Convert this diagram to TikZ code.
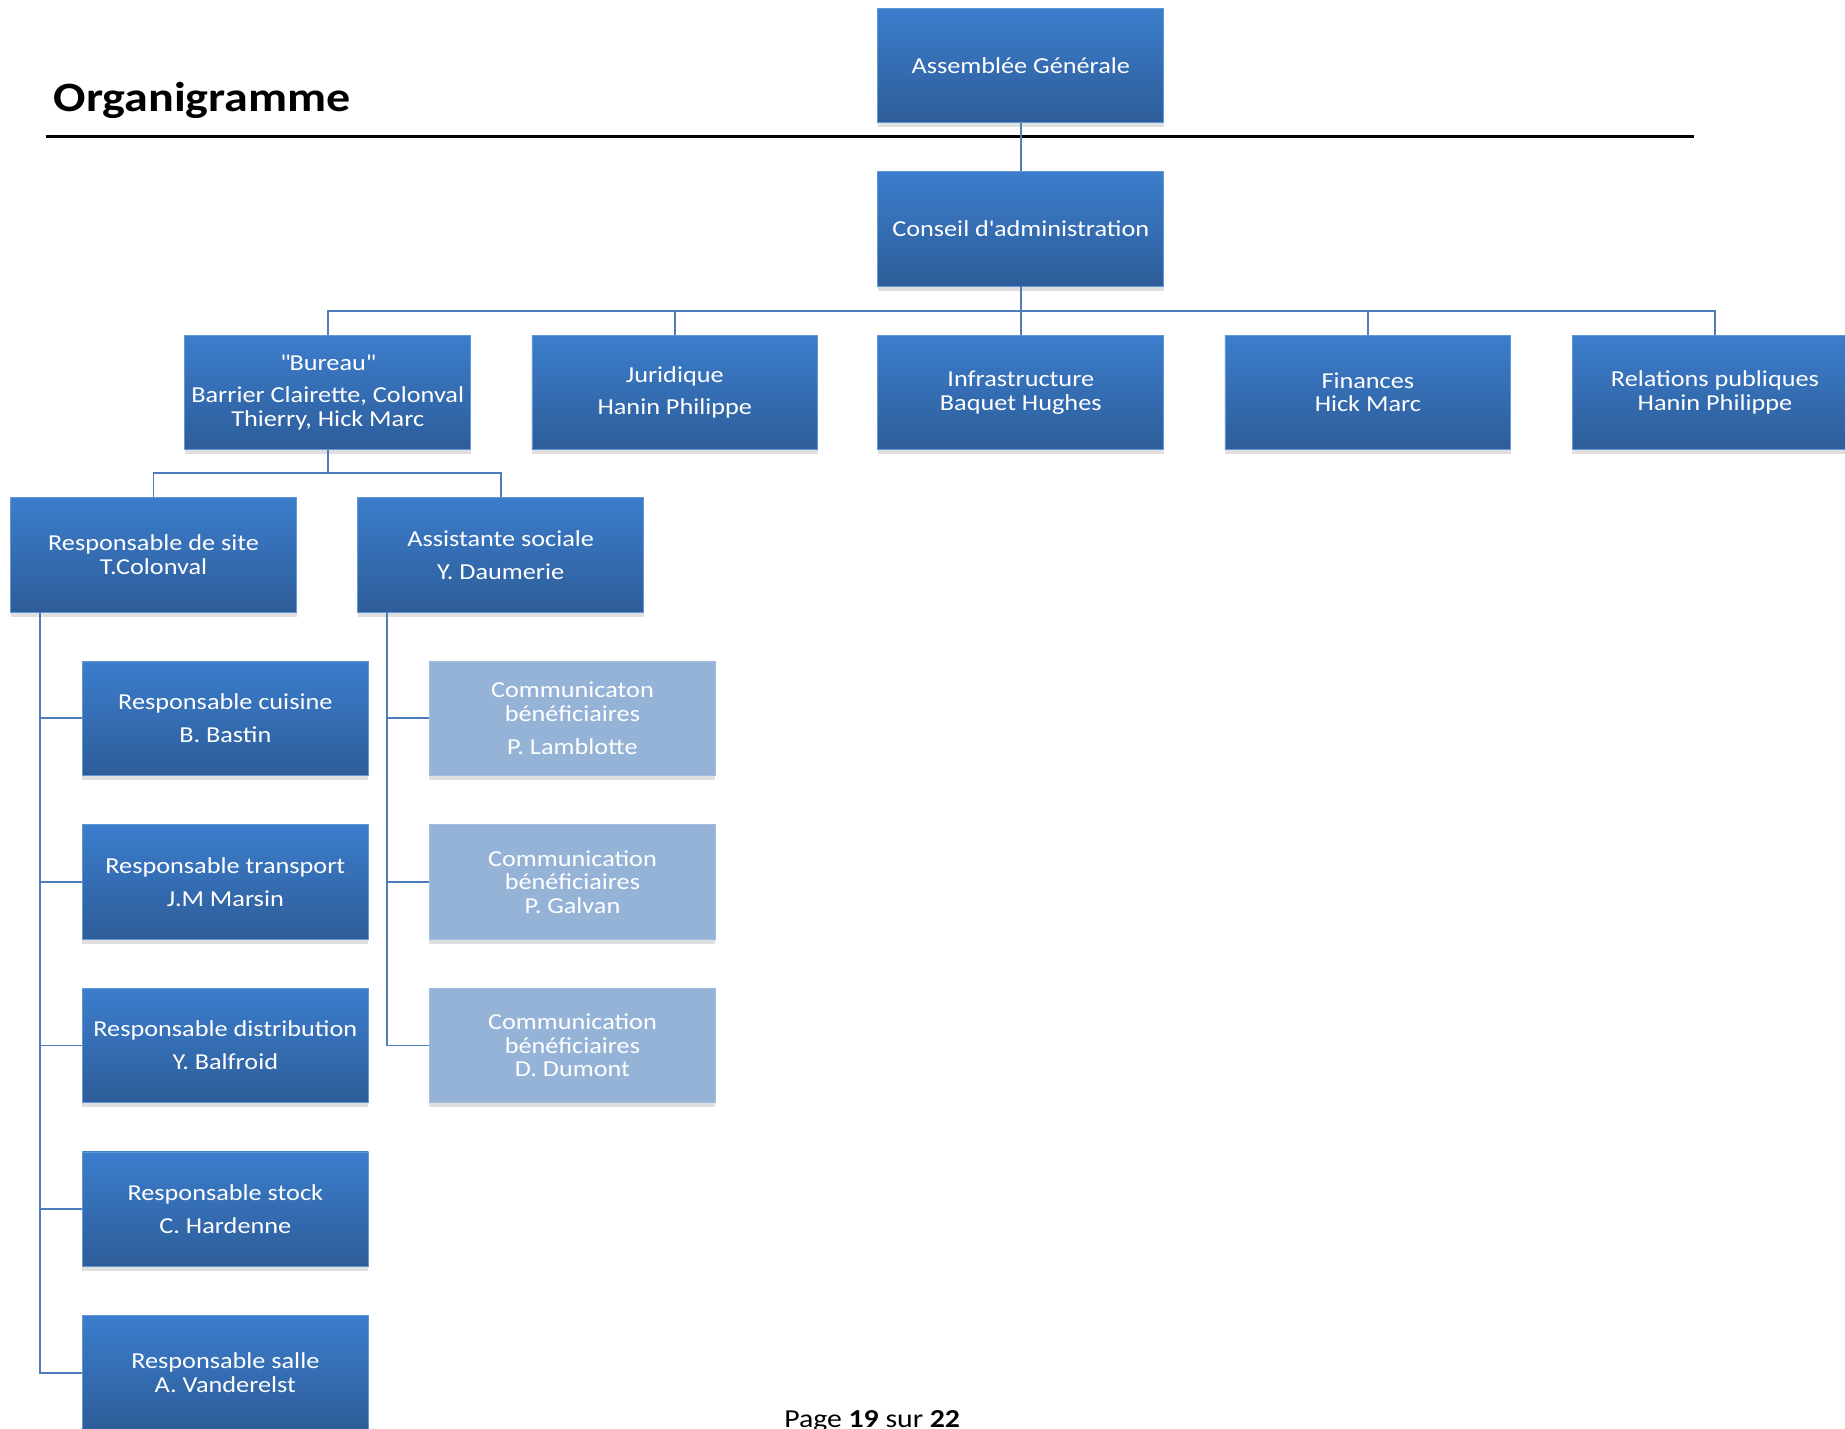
\documentclass[tikz,border=0pt]{standalone}
\usepackage{fontspec}
\setmainfont[FakeStretch=1.15]{Carlito}
\usepackage{tikz}
\usetikzlibrary{positioning, shadows}
\definecolor{boxtop}{RGB}{60,125,204}
\definecolor{boxbot}{RGB}{45,93,153}
\definecolor{boxlight}{RGB}{149,179,215}
\definecolor{linkblue}{RGB}{79,124,186}

\tikzset{
  unit/.style={rectangle, minimum width=243pt, minimum height=97pt,
    inner sep=1pt, align=center, text=white,
    font=\fontsize{19.4}{20}\selectfont,
    drop shadow={shadow xshift=0pt, shadow yshift=-4pt, opacity=.25}},
  darkunit/.style={unit, top color=boxtop, bottom color=boxbot, draw=boxtop!80!white, line width=.6pt},
  lightunit/.style={unit, fill=boxlight, draw=boxlight!85!white, line width=.6pt},
  link/.style={draw=linkblue, line width=1.6pt},
}

\begin{document}
\begin{tikzpicture}[x=1pt, y=-1pt]
  \useasboundingbox (0,0) rectangle (1568,1214);
  \clip (0,0) rectangle (1568,1214);
  \fill[white] (0,0) rectangle (1568,1214);
  \coordinate (ttl) at (42,95);
  \coordinate (rulel) at (39,116);
  \coordinate (ruler) at (1440,116);
  \coordinate (pg) at (663,1213);

  \node[anchor=base west] (title) at (ttl) {\fontsize{35.5}{40}\selectfont\bfseries Organigramme};
  \path[draw, line width=2pt] (rulel) -- (ruler);

  \node[darkunit] (ag) at (867.5,55.5) {Assemblée Générale};
  \node[darkunit] (ca) at (867.5,194.5) {Conseil d\textquotesingle administration};

  \node[darkunit] (bureau) at (278.5,333.5) {\textquotedbl Bureau\textquotedbl\\[8pt]Barrier Clairette, Colonval\\Thierry, Hick Marc};
  \node[darkunit] (jur) at (573.5,333.5) {Juridique\\[8pt]Hanin Philippe};
  \node[darkunit] (infra) at (867.5,333.5) {Infrastructure\\Baquet Hughes};
  \node[darkunit] (fin) at (1162.5,333.5) {Finances\\Hick Marc};
  \node[darkunit] (rel) at (1457.5,333.5) {Relations publiques\\Hanin Philippe};

  \node[darkunit] (site) at (130.5,471.5) {Responsable de site\\T.Colonval};
  \node[darkunit] (assist) at (425.5,471.5) {Assistante sociale\\[8pt]Y. Daumerie};

  \node[darkunit] (cuisine) at (191.5,610.5) {Responsable cuisine\\[8pt]B. Bastin};
  \node[darkunit] (transport) at (191.5,749.5) {Responsable transport\\[8pt]J.M Marsin};
  \node[darkunit] (distrib) at (191.5,888.5) {Responsable distribution\\[8pt]Y. Balfroid};
  \node[darkunit] (stock) at (191.5,1027.5) {Responsable stock\\[8pt]C. Hardenne};
  \node[darkunit] (salle) at (191.5,1166.5) {Responsable salle\\A. Vanderelst};

  \node[lightunit] (lamblotte) at (486.5,610.5) {Communicaton\\bénéficiaires\\[8pt]P. Lamblotte};
  \node[lightunit] (galvan) at (486.5,749.5) {Communication\\bénéficiaires\\P. Galvan};
  \node[lightunit] (dumont) at (486.5,888.5) {Communication\\bénéficiaires\\D. Dumont};

  \coordinate (siteline) at ([xshift=25pt]site.south west);
  \coordinate (assistline) at ([xshift=25pt]assist.south west);

  \path[link] (ag) -- (ca);
  \foreach \n in {bureau,jur,infra,fin,rel}
    \path[link] (ca.south) -- +(0,21) -| (\n.north);
  \foreach \n in {site,assist}
    \path[link] (bureau.south) -- +(0,20) -| (\n.north);
  \foreach \n in {cuisine,transport,distrib,stock,salle}
    \path[link] (siteline) |- (\n.west);
  \foreach \n in {lamblotte,galvan,dumont}
    \path[link] (assistline) |- (\n.west);

  \node[anchor=base west] (page) at (pg) {\fontsize{22}{26}\selectfont Page \textbf{19} sur \textbf{22}};
\end{tikzpicture}
\end{document}
